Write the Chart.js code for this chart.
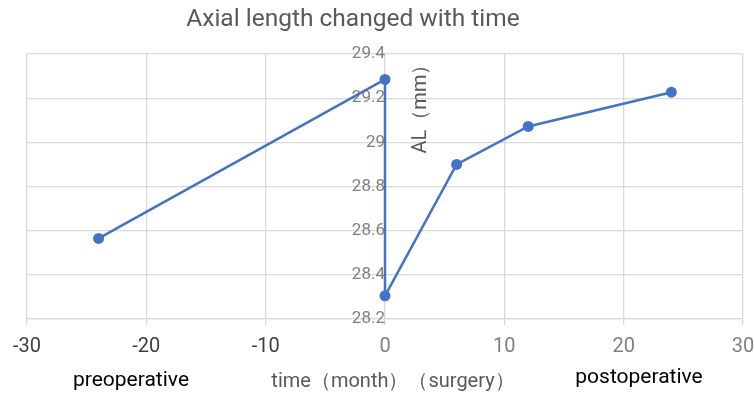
<!DOCTYPE html>
<html>
<head>
<meta charset="utf-8">
<script src="https://cdn.jsdelivr.net/npm/chart.js@4"></script>
<style>
  html, body { margin: 0; padding: 0; background: #ffffff; }
  #wrap { width: 754px; height: 395px; }
</style>
</head>
<body>
<div id="wrap"><canvas id="c" width="754" height="395"></canvas></div>
<script>
// Follow-up times (months, surgery at 0) and measured axial length (mm)
const months = [-24, 0, 0, 6, 12, 24];
const axialLength = [28.565, 29.285, 28.305, 28.9, 29.072, 29.227];

// Axis ranges and labels
const xRange = [-30, 30];
const xStep = 10;
const yRange = [28.2, 29.4];
const yStep = 0.2;
const chartTitle = 'Axial length changed with time';
const yTitle = 'AL（mm）';
const xTitle = 'time（month）（surgery）';
const leftNote = 'preoperative';
const rightNote = 'postoperative';

const gray = '#595959';
const lightGray = '#808080';
const darkGray = '#404040';
const blue = '#4472C4';
const FONT = 'Roboto, "Liberation Sans", sans-serif';

const points = months.map((m, i) => ({ x: m, y: axialLength[i] }));

// Free text: title, axis titles and the pre/post-operative notes
const annotations = {
  id: 'annotations',
  afterDraw(chart) {
    const ctx = chart.ctx;
    const xs = chart.scales.x;
    ctx.save();
    ctx.textBaseline = 'middle';
    ctx.textAlign = 'center';

    ctx.fillStyle = gray;
    ctx.font = '24.5px ' + FONT;
    ctx.fillText(chartTitle, 353, 20);

    ctx.font = '20px ' + FONT;
    ctx.fillStyle = gray;
    ctx.fillText(xTitle, 393, 382);

    ctx.font = '21px ' + FONT;
    ctx.fillStyle = '#000000';
    ctx.fillText(leftNote, 131, 381);
    ctx.fillText(rightNote, 639, 378);

    ctx.font = '20px ' + FONT;
    ctx.fillStyle = gray;
    ctx.translate(xs.getPixelForValue(0) + 36, 104);
    ctx.rotate(-Math.PI / 2);
    ctx.fillText(yTitle, 0, 0);
    ctx.restore();
  }
};

new Chart(document.getElementById('c'), {
  type: 'scatter',
  data: {
    datasets: [{
      data: points,
      showLine: true,
      borderColor: blue,
      backgroundColor: blue,
      borderWidth: 2.5,
      pointRadius: 5.5,
      pointHoverRadius: 5.5,
      pointBorderWidth: 0,
      tension: 0
    }]
  },
  options: {
    responsive: false,
    animation: false,
    layout: { padding: { top: 54, bottom: 26, left: 27, right: 11 } },
    plugins: {
      legend: { display: false },
      title: { display: false },
      tooltip: { enabled: false }
    },
    scales: {
      x: {
        type: 'linear',
        min: xRange[0],
        max: xRange[1],
        afterFit(scale) {
          // end labels may overhang the plot edges
          scale.paddingLeft = 0;
          scale.paddingRight = 0;
        },
        ticks: {
          stepSize: xStep,
          color: ctx => (ctx.tick && ctx.tick.value < 0 ? darkGray : lightGray),
          font: { family: FONT, size: 20 },
          padding: 10
        },
        grid: { color: '#d9d9d9', lineWidth: 1.3, tickLength: 6 },
        border: { color: '#d9d9d9', width: 1.3 }
      },
      y: {
        type: 'linear',
        position: { x: 0 },
        min: yRange[0],
        max: yRange[1],
        ticks: {
          stepSize: yStep,
          color: lightGray,
          font: { family: FONT, size: 17 },
          padding: 14,
          callback: v => String(Number(v.toFixed(1)))
        },
        grid: { color: '#d9d9d9', lineWidth: 1.3, drawTicks: false },
        border: { display: false }
      }
    }
  },
  plugins: [annotations]
});
</script>
</body>
</html>
